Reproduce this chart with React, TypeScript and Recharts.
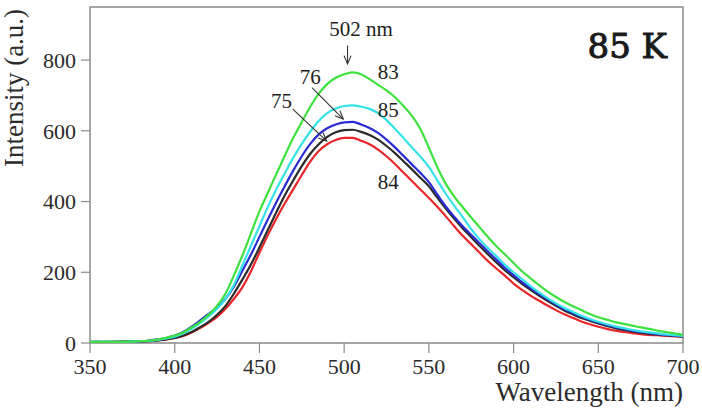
import {
	Label,
	Line,
	LineChart,
	ReferenceArea,
	ReferenceDot,
	ReferenceLine,
	XAxis,
	YAxis,
} from "recharts";

// wavelength grid (nm), 5 nm steps
const WAVELENGTHS = [
	350, 355, 360, 365, 370, 375, 380, 385, 390, 395,
	400, 405, 410, 415, 420, 425, 430, 435, 440, 445,
	450, 455, 460, 465, 470, 475, 480, 485, 490, 495,
	500, 505, 510, 515, 520, 525, 530, 535, 540, 545,
	550, 555, 560, 565, 570, 575, 580, 585, 590, 595,
	600, 605, 610, 615, 620, 625, 630, 635, 640, 645,
	650, 655, 660, 665, 670, 675, 680, 685, 690, 695,
	700,
];

const S83 = [
	3, 3, 3, 3, 4, 4, 5, 7, 10, 15,
	21, 30, 44, 60, 80, 105, 140, 192, 248, 310,
	372, 425, 478, 530, 580, 625, 668, 705, 732, 750,
	760, 765, 760, 746, 730, 714, 695, 670, 642, 605,
	552, 497, 450, 414, 384, 355, 327, 299, 273, 250,
	226, 203, 183, 164, 146, 130, 116, 104, 93, 82,
	73, 66, 59, 54, 49, 44, 40, 35, 31, 27,
	23,
];

const S85 = [
	2, 3, 3, 3, 3, 4, 5, 6, 9, 13,
	18, 27, 40, 56, 75, 97, 125, 165, 220, 275,
	330, 385, 435, 480, 524, 563, 598, 628, 650, 663,
	670, 672, 668, 662, 650, 630, 606, 580, 553, 527,
	498, 460, 422, 388, 356, 322, 293, 268, 245, 221,
	200, 181, 161, 143, 127, 112, 99, 88, 77, 68,
	60, 53, 47, 42, 37, 33, 30, 27, 24, 22,
	20,
];

const S76 = [
	3, 4, 3, 3, 4, 4, 5, 7, 10, 14,
	21, 31, 46, 64, 82, 100, 125, 160, 205, 250,
	300, 350, 398, 444, 488, 528, 563, 590, 607, 618,
	624, 625, 618, 608, 594, 575, 553, 529, 505, 481,
	455, 420, 386, 357, 330, 306, 282, 258, 235, 212,
	192, 172, 155, 139, 124, 109, 96, 85, 75, 66,
	58, 51, 45, 40, 35, 31, 28, 25, 23, 21,
	19,
];

const S75 = [
	2, 2, 3, 3, 3, 4, 4, 5, 7, 10,
	14, 21, 31, 45, 60, 80, 105, 140, 180, 222,
	270, 320, 370, 418, 460, 500, 535, 562, 583, 596,
	602, 603, 597, 588, 575, 557, 537, 514, 491, 467,
	443, 411, 380, 351, 324, 299, 274, 250, 227, 205,
	186, 167, 150, 134, 119, 105, 92, 81, 71, 63,
	55, 48, 42, 37, 33, 29, 26, 24, 22, 20,
	18,
];

const S84 = [
	2, 2, 2, 3, 5, 3, 4, 5, 7, 10,
	14, 20, 30, 42, 57, 74, 97, 125, 158, 203,
	255, 305, 352, 395, 435, 475, 513, 543, 562, 574,
	580, 580, 572, 562, 547, 528, 506, 482, 458, 434,
	410, 385, 358, 330, 303, 279, 255, 231, 210, 190,
	168, 150, 134, 120, 106, 93, 81, 71, 61, 53,
	46, 40, 35, 31, 28, 25, 23, 22, 20, 19,
	18,
];

const X_TICKS = [350, 400, 450, 500, 550, 600, 650, 700];
const X_MINOR = [
	350, 360, 370, 380, 390, 400, 410, 420, 430, 440, 450, 460,
	470, 480, 490, 500, 510, 520, 530, 540, 550, 560, 570, 580,
	590, 600, 610, 620, 630, 640, 650, 660, 670, 680, 690, 700,
];
const Y_TICKS = [0, 200, 400, 600, 800];
const Y_MINOR = [0, 50, 100, 150, 200, 250, 300, 350, 400, 450, 500, 550, 600, 650, 700, 750, 800, 850, 900];

const SERIES = [
	{ key: "s84", values: S84, color: "#e8262a" },
	{ key: "s75", values: S75, color: "#2a2a2a" },
	{ key: "s76", values: S76, color: "#2b2bd6" },
	{ key: "s85", values: S85, color: "#34e3e8" },
	{ key: "s83", values: S83, color: "#3ee23e" },
];

// curve labels, in data coordinates
const NOTES = [
	{ text: "502 nm", x: 510, y: 888 },
	{ text: "83", x: 526, y: 766 },
	{ text: "85", x: 526, y: 658 },
	{ text: "76", x: 480, y: 752 },
	{ text: "75", x: 463, y: 684 },
	{ text: "84", x: 526, y: 454 },
];

const ARROWS = [
	{ from: { x: 502, y: 841 }, to: { x: 502, y: 789 } },
	{ from: { x: 481, y: 722 }, to: { x: 499.5, y: 633 } },
	{ from: { x: 469.7, y: 661 }, to: { x: 489.7, y: 571 } },
];

const data = WAVELENGTHS.map((nm, i) => {
	const row: Record<string, number> = { nm };
	SERIES.forEach((s) => {
		row[s.key] = s.values[i];
	});
	return row;
});

const FONT = "'Liberation Serif', 'Times New Roman', serif";
const AXIS_GREY = "#8a8a8a";
const TEXT = "#2b2b2b";

const noBox = () => <g />;

const arrowShape = (p: any) => {
	const { x1, y1, x2, y2 } = p;
	const a = Math.atan2(y2 - y1, x2 - x1);
	const len = 9;
	const spread = 0.4;
	const ax = x2 - len * Math.cos(a - spread);
	const ay = y2 - len * Math.sin(a - spread);
	const bx = x2 - len * Math.cos(a + spread);
	const by = y2 - len * Math.sin(a + spread);
	return (
		<g stroke="#333" strokeWidth={1.1} fill="none">
			<line x1={x1} y1={y1} x2={x2} y2={y2} />
			<polyline points={`${ax},${ay} ${x2},${y2} ${bx},${by}`} />
		</g>
	);
};

const noteShape = (text: string) => (p: any) => (
	<text
		x={p.cx}
		y={p.cy}
		textAnchor="middle"
		dominantBaseline="central"
		fontFamily={FONT}
		fontSize={21}
		fill="#1e1e1e"
	>
		{text}
	</text>
);

export default function App() {
	return (
		<div style={{ position: "absolute", left: 0, top: 0, background: "#fff" }}>
			<LineChart
				width={702}
				height={411}
				data={data}
				margin={{ top: 7, right: 19, bottom: 0, left: 0 }}
			>
				<XAxis
					xAxisId="minor"
					dataKey="nm"
					type="number"
					domain={[350, 700]}
					ticks={X_MINOR}
					height={0}
					tickSize={5}
					tick={noBox}
					axisLine={false}
					tickLine={{ stroke: AXIS_GREY, strokeWidth: 1.2 }}
					allowDataOverflow
				/>
				<XAxis
					dataKey="nm"
					type="number"
					domain={[350, 700]}
					ticks={X_TICKS}
					height={68}
					tickSize={10}
					tickMargin={5}
					axisLine={false}
					tickLine={{ stroke: AXIS_GREY, strokeWidth: 1.2 }}
					tick={{ fill: TEXT, fontSize: 22, fontFamily: FONT }}
					allowDataOverflow
				>
					<Label
						content={() => (
							<text
								x={683}
								y={401}
								textAnchor="end"
								fontFamily={FONT}
								fontSize={27}
								fill={TEXT}
							>
								Wavelength (nm)
							</text>
						)}
					/>
				</XAxis>
				<YAxis
					yAxisId="minor"
					type="number"
					domain={[0, 950]}
					ticks={Y_MINOR}
					width={0}
					tickSize={5}
					tick={noBox}
					axisLine={false}
					tickLine={{ stroke: AXIS_GREY, strokeWidth: 1.2 }}
					allowDataOverflow
				/>
				<YAxis
					type="number"
					domain={[0, 950]}
					ticks={Y_TICKS}
					width={90}
					tickSize={9}
					tickMargin={5}
					axisLine={false}
					tickLine={{ stroke: AXIS_GREY, strokeWidth: 1.2 }}
					tick={{ fill: TEXT, fontSize: 22, fontFamily: FONT }}
					allowDataOverflow
				>
					<Label
						content={() => (
							<text
								transform="rotate(-90)"
								x={-88}
								y={23}
								textAnchor="middle"
								fontFamily={FONT}
								fontSize={27}
								fill={TEXT}
							>
								Intensity (a.u.)
							</text>
						)}
					/>
				</YAxis>
				<ReferenceArea
					x1={350}
					x2={700}
					y1={0}
					y2={950}
					fill="none"
					stroke={AXIS_GREY}
					strokeWidth={1.5}
					ifOverflow="visible"
				/>
				{SERIES.map((s) => (
					<Line
						key={s.key}
						dataKey={s.key}
						stroke={s.color}
						strokeWidth={2.2}
						dot={false}
						type="monotone"
						isAnimationActive={false}
					/>
				))}
				{ARROWS.map((a, i) => (
					<ReferenceLine
						key={`arrow-${i}`}
						segment={[a.from, a.to]}
						shape={arrowShape}
						ifOverflow="visible"
					/>
				))}
				{NOTES.map((n) => (
					<ReferenceDot
						key={n.text}
						x={n.x}
						y={n.y}
						r={0}
						shape={noteShape(n.text)}
						ifOverflow="visible"
					/>
				))}
				<ReferenceDot
					x={700}
					y={950}
					r={0}
					ifOverflow="visible"
					shape={(p: any) => (
						<text
							x={p.cx - 16}
							y={p.cy + 51}
							textAnchor="end"
							fontFamily="'DejaVu Serif', serif"
							fontSize={34}
							fill="#1a1a1a"
							stroke="#1a1a1a"
							strokeWidth={1}
						>
							85 K
						</text>
					)}
				/>
			</LineChart>
		</div>
	);
}
